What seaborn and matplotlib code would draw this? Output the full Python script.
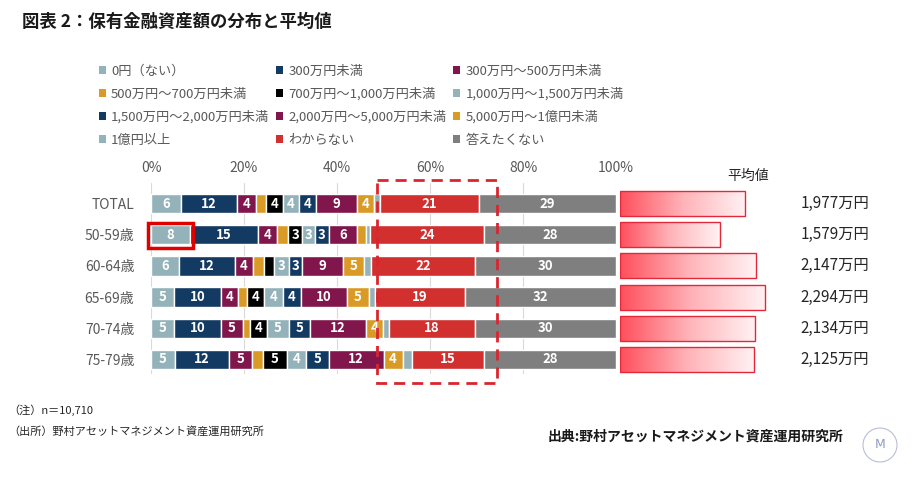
import numpy as np
import pandas as pd
import matplotlib
matplotlib.use('Agg')
import matplotlib.pyplot as plt
import seaborn as sns
from matplotlib.patches import Patch, Rectangle, Ellipse
from matplotlib.colors import LinearSegmentedColormap

sns.set_theme(style='white')
plt.rcParams['font.family'] = ['Noto Sans CJK JP', 'DejaVu Sans']

# ---- data ----
rows = ['TOTAL', '50-59歳', '60-64歳', '65-69歳', '70-74歳', '75-79歳']
categories = ['0円（ない）', '300万円未満', '300万円～500万円未満',
              '500万円～700万円未満', '700万円～1,000万円未満', '1,000万円～1,500万円未満',
              '1,500万円～2,000万円未満', '2,000万円～5,000万円未満', '5,000万円～1億円未満',
              '1億円以上', 'わからない', '答えたくない']

# share (%) of each bracket, one list per row
total = [6.4, 12.0, 4.2, 2.1, 3.6, 3.6, 3.5, 9.0, 3.5, 1.3, 21.4, 29.4]
age_50_59 = [8.4, 14.6, 4.1, 2.4, 3.0, 2.8, 2.9, 6.1, 2.0, 0.9, 24.4, 28.4]
age_60_64 = [6.0, 12.0, 4.0, 2.2, 2.2, 3.2, 2.8, 8.8, 4.6, 1.6, 22.2, 30.4]
age_65_69 = [5.0, 10.0, 3.7, 2.0, 3.7, 4.0, 3.8, 10.0, 4.6, 1.3, 19.4, 32.5]
age_70_74 = [5.0, 10.0, 4.7, 1.6, 3.6, 4.7, 4.6, 12.0, 3.6, 1.4, 18.4, 30.4]
age_75_79 = [5.2, 11.6, 5.0, 2.2, 5.3, 4.1, 4.8, 11.8, 4.1, 2.1, 15.4, 28.4]

# average holdings (万円)
averages = [1977, 1579, 2147, 2294, 2134, 2125]

colors = ['#93b2b9', '#123a63', '#80164b', '#d99b26', '#000000', '#93b2b9',
          '#123a63', '#80164b', '#d99b26', '#93b2b9', '#d22f2f', '#7f7f7f']

shares = pd.DataFrame([total, age_50_59, age_60_64, age_65_69, age_70_74, age_75_79],
                      index=rows, columns=categories)

grey = '#595959'

fig = plt.figure(figsize=(9.15, 4.79), dpi=100)

# ---- stacked 100% bars ----
ax = fig.add_axes([151 / 915, 1 - 374 / 479, 465 / 915, 191 / 479])
ypos = np.arange(len(rows))
left = np.zeros(len(rows))
for cat, col in zip(categories, colors):
    vals = shares[cat].values
    ax.barh(ypos, vals, left=left, height=0.62, color=col, edgecolor='white', linewidth=1.0)
    for y, l, v in zip(ypos, left, vals):
        if round(v) >= 3:
            ax.text(l + v / 2, y, f'{v:.0f}', ha='center', va='center',
                    color='white', fontsize=9.5, fontweight='bold')
    left += vals

ax.set_xlim(0, 100)
ax.set_ylim(5.47, -0.66)
ax.xaxis.tick_top()
ax.set_xticks(range(0, 101, 20))
ax.set_xticklabels([f'{t}%' for t in range(0, 101, 20)], color=grey, fontsize=10)
ax.set_yticks(ypos)
ax.set_yticklabels(rows, color=grey, fontsize=10)
ax.tick_params(axis='both', length=0)
ax.tick_params(axis='x', pad=6)
ax.tick_params(axis='y', pad=12)
ax.grid(axis='x', color='#d9d9d9', linewidth=0.8)
ax.set_axisbelow(True)
for s in ax.spines.values():
    s.set_visible(False)

# highlight boxes
ax.add_patch(Rectangle((48.5, -0.75), 26.0, 6.52, fill=False, edgecolor='#d9262e',
                       linestyle=(0, (4, 2.5)), linewidth=2, clip_on=False, zorder=5))
ax.add_patch(Rectangle((-0.56, 0.615), 9.66, 0.815, fill=False, edgecolor='#e00000',
                       linewidth=2.5, clip_on=False, zorder=5))

# ---- average bars (gradient) ----
ax2 = fig.add_axes([620 / 915, 1 - 374 / 479, 160 / 915, 191 / 479])
avg_df = pd.DataFrame({'row': rows, 'avg': averages})
sns.barplot(data=avg_df, x='avg', y='row', orient='h', ax=ax2, width=0.8,
            facecolor='none', edgecolor='#e3283a', linewidth=1.0)
grad = LinearSegmentedColormap.from_list('g', ['#ff4f5c', '#ffb3b8', '#fff2f3'])
gradient = np.linspace(0, 1, 256).reshape(1, -1)
for bar in ax2.patches:
    x0, y0 = bar.get_x(), bar.get_y()
    w, h = bar.get_width(), bar.get_height()
    im = ax2.imshow(gradient, cmap=grad, aspect='auto', extent=[x0, x0 + w, y0 + h, y0],
                    zorder=1)
    im.set_clip_path(bar)
    bar.set_zorder(2)
for y, v in zip(ypos, averages):
    ax2.text(1.13, y, f'{v:,}万円', transform=ax2.get_yaxis_transform(),
             ha='left', va='center', fontsize=11, color='#262626')
ax2.set_xlim(0, 160 * 15.8)
ax2.set_ylim(5.47, -0.66)
ax2.set_xticks([])
ax2.set_yticks([])
ax2.set_xlabel('')
ax2.set_ylabel('')
for s in ax2.spines.values():
    s.set_visible(False)
fig.text(748 / 915, 1 - 176 / 479, '平均値', ha='center', va='center', fontsize=10, color='#262626')

# ---- legend (row-major order like the original) ----
handles = [Patch(facecolor=c, edgecolor='none') for c in colors]
order = [i for c in range(3) for i in range(c, len(categories), 3)]
fig.legend([handles[i] for i in order], [categories[i] for i in order], ncol=3,
           loc='upper left', bbox_to_anchor=(92 / 915, 1 - 58 / 479), frameon=False,
           fontsize=9.5, labelcolor=grey, handlelength=0.55, handleheight=0.55,
           handletextpad=0.4, columnspacing=0.5, labelspacing=0.75, borderpad=0)

# ---- titles and notes ----
fig.text(22 / 915, 1 - 22 / 479, '図表 2：保有金融資産額の分布と平均値', ha='left', va='center',
         fontsize=12.5, fontweight='bold', color='#1a1a1a')
fig.text(8 / 915, 1 - 410 / 479, '（注）n＝10,710', ha='left', va='center', fontsize=8, color='#262626')
fig.text(8 / 915, 1 - 431 / 479, '（出所）野村アセットマネジメント資産運用研究所', ha='left', va='center',
         fontsize=8, color='#262626')
fig.text(548 / 915, 1 - 437 / 479, '出典:野村アセットマネジメント資産運用研究所', ha='left', va='center',
         fontsize=10, fontweight='bold', color='#1a1a1a')

# small round logo mark bottom right
fig.patches.append(Ellipse((880 / 915, 1 - 445 / 479), 34 / 915, 34 / 479,
                           transform=fig.transFigure, fill=False,
                           edgecolor='#b8bfd6', linewidth=0.8))
fig.text(880 / 915, 1 - 445 / 479, 'M', ha='center', va='center', fontsize=9,
         color='#8f9cc8', family=['DejaVu Sans'])

fig.savefig('out.png', dpi=100)
